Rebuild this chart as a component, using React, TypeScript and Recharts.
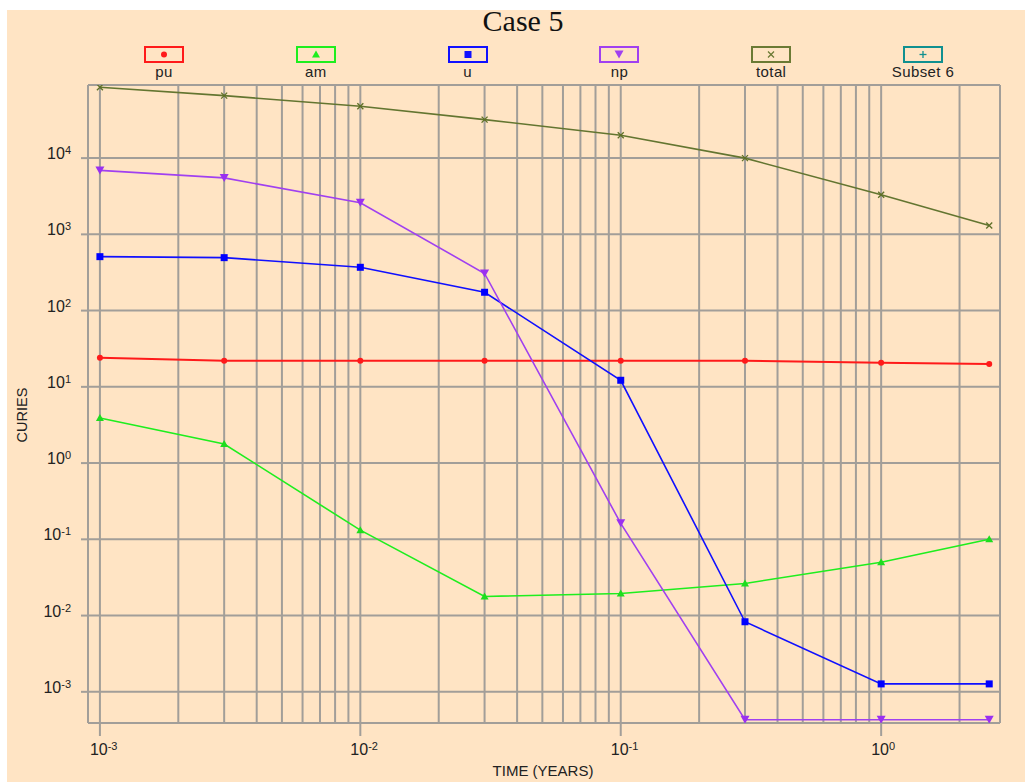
import { LineChart, Line, XAxis, YAxis, CartesianGrid } from 'recharts'

// time points (years) and curies per nuclide
const years = [0.001, 0.003, 0.01, 0.03, 0.1, 0.3, 1, 2.6]
const pu = [24, 22, 22, 22, 22, 22, 20.7, 19.9]
const am = [3.9, 1.78, 0.132, 0.0178, 0.0195, 0.0264, 0.05, 0.1]
const u = [510, 495, 370, 174, 12.2, 0.0083, 0.00127, 0.00127]
const np = [6900, 5500, 2600, 307, 0.162, 0.00043, 0.00043, 0.00043]
const total = [85000, 66000, 48000, 32000, 20000, 10000, 3300, 1310]

const xTicks = [0.001, 0.01, 0.1, 1]
const yTicks = [0.001, 0.01, 0.1, 1, 10, 100, 1000, 10000]
const xDomain: [number, number] = [0.0009, 2.86]
const yDomain: [number, number] = [0.00039, 91000]

// minor grid at 1..9 per decade
const xGrid = [xDomain[0], ...xTicks.flatMap((d) => [1, 2, 3, 4, 5, 6, 7, 8, 9].map((m) => +(m * d).toPrecision(3))).filter((v) => v < xDomain[1]), xDomain[1]]
const yGrid = [yDomain[0], ...yTicks, yDomain[1]]

const legendItems = [
  { name: 'pu', color: '#FF1A1A', shape: 'circle' },
  { name: 'am', color: '#1EEE1E', shape: 'triangle' },
  { name: 'u', color: '#1010FF', shape: 'square' },
  { name: 'np', color: '#A040F0', shape: 'down' },
  { name: 'total', color: '#6B7A34', shape: 'cross' },
  { name: 'Subset 6', color: '#109090', shape: 'plus' },
]

const data = years.map((t, i) => ({ t, pu: pu[i], am: am[i], u: u[i], np: np[i], total: total[i] }))

const GRID = '#A29E99'
const FONT = '"Liberation Sans", Arial, sans-serif'

function Marker({ shape, color, cx, cy }: { shape: string; color: string; cx: number; cy: number }) {
  if (shape === 'circle') return <circle cx={cx} cy={cy} r={3} fill={color} />
  if (shape === 'triangle') return <polygon points={`${cx},${cy - 4} ${cx + 4},${cy + 3} ${cx - 4},${cy + 3}`} fill={color} />
  if (shape === 'square') return <rect x={cx - 3.5} y={cy - 3.5} width={7} height={7} fill={color} />
  if (shape === 'down') return <polygon points={`${cx - 4.5},${cy - 4} ${cx + 4.5},${cy - 4} ${cx},${cy + 4}`} fill={color} />
  if (shape === 'cross')
    return (
      <g stroke={color} strokeWidth={1.3}>
        <line x1={cx - 3} y1={cy - 3} x2={cx + 3} y2={cy + 3} />
        <line x1={cx - 3} y1={cy + 3} x2={cx + 3} y2={cy - 3} />
      </g>
    )
  return (
    <g stroke={color} strokeWidth={1.3}>
      <line x1={cx - 3.5} y1={cy} x2={cx + 3.5} y2={cy} />
      <line x1={cx} y1={cy - 3.5} x2={cx} y2={cy + 3.5} />
    </g>
  )
}

const dotFor = (shape: string, color: string) => (p: any) => (
  <Marker key={`${shape}-${p.index}`} shape={shape} color={color} cx={p.cx} cy={p.cy} />
)

function XTick({ x, y, payload }: any) {
  const exp = Math.round(Math.log10(payload.value))
  return (
    <text x={x - 10} y={y + 17} fontSize={16} fontFamily={FONT} fill="#222">
      <tspan>10</tspan>
      <tspan dy={-5} fontSize={11}>{exp}</tspan>
    </text>
  )
}

function YTick({ x, y, payload }: any) {
  const exp = Math.round(Math.log10(payload.value))
  return (
    <text x={x - 8} y={y + 1} textAnchor="end" fontSize={16} fontFamily={FONT} fill="#222">
      <tspan>10</tspan>
      <tspan dy={-5} fontSize={11}>{exp}</tspan>
    </text>
  )
}

export default function App() {
  return (
    <div style={{ position: 'absolute', left: 7, top: 10, width: 1018, height: 772, background: '#FFE4C4', fontFamily: FONT }}>
      <div style={{ position: 'absolute', left: 0, width: 1032, top: -6, textAlign: 'center', fontFamily: '"Liberation Serif", serif', fontSize: 30, color: '#111' }}>
        Case 5
      </div>
      {legendItems.map((it, i) => (
        <div key={it.name} style={{ position: 'absolute', left: 157 + i * 151.8 - 50, width: 100, top: 36, textAlign: 'center' }}>
          <svg width={40} height={17} style={{ display: 'block', margin: '0 auto' }}>
            <rect x={1} y={1} width={38} height={15} fill="none" stroke={it.color} strokeWidth={2} />
            <Marker shape={it.shape} color={it.color} cx={20} cy={8.5} />
          </svg>
          <div style={{ fontSize: 15, letterSpacing: 0.4, color: '#222', lineHeight: '18px' }}>{it.name}</div>
        </div>
      ))}
      <div style={{ position: 'absolute', left: 15 - 40, top: 405 - 9, width: 80, textAlign: 'center', fontSize: 14.5, lineHeight: '18px', color: '#222', transform: 'rotate(-90deg)' }}>
        CURIES
      </div>
      <div style={{ position: 'absolute', left: 536 - 80, top: 752, width: 160, textAlign: 'center', fontSize: 15, color: '#222' }}>
        TIME (YEARS)
      </div>
      <LineChart width={1018} height={772} data={data} margin={{ top: 75, right: 25, bottom: 19, left: 8 }} style={{ position: 'absolute', left: 0, top: 0 }}>
        <CartesianGrid xAxisId="grid" stroke={GRID} strokeWidth={2} horizontalValues={yGrid} />
        <XAxis xAxisId="grid" dataKey="t" type="number" scale="log" domain={xDomain} allowDataOverflow ticks={xGrid} interval={0} hide />
        <XAxis
          dataKey="t"
          type="number"
          scale="log"
          domain={xDomain}
          allowDataOverflow
          ticks={xTicks}
          interval={0}
          tickSize={13}
          axisLine={false}
          tickLine={{ stroke: GRID, strokeWidth: 2 }}
          tick={<XTick />}
          height={40}
        />
        <YAxis
          type="number"
          scale="log"
          domain={yDomain}
          allowDataOverflow
          ticks={yTicks}
          interval={0}
          tickSize={7}
          axisLine={false}
          tickLine={{ stroke: GRID, strokeWidth: 2 }}
          tick={<YTick />}
          width={73}
        />
        <Line dataKey="total" stroke="#637530" strokeWidth={1.6} dot={dotFor('cross', '#5E7028')} isAnimationActive={false} />
        <Line dataKey="pu" stroke="#FF1A1A" strokeWidth={2} dot={dotFor('circle', '#FF1A1A')} isAnimationActive={false} />
        <Line dataKey="am" stroke="#1EEE1E" strokeWidth={1.6} dot={dotFor('triangle', '#1EDD1E')} isAnimationActive={false} />
        <Line dataKey="u" stroke="#1010FF" strokeWidth={1.6} dot={dotFor('square', '#0000FF')} isAnimationActive={false} />
        <Line dataKey="np" stroke="#A040F0" strokeWidth={1.6} dot={dotFor('down', '#9A30F0')} isAnimationActive={false} />
      </LineChart>
    </div>
  )
}
